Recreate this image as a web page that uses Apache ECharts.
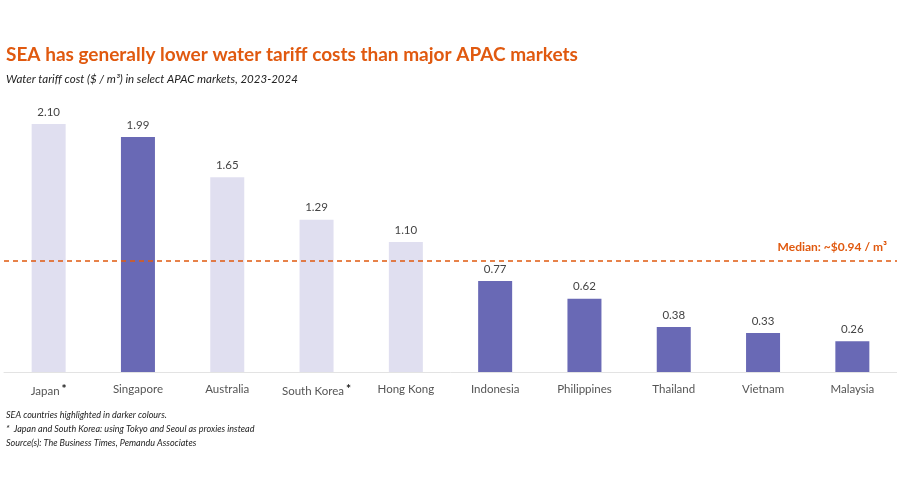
<!DOCTYPE html>
<html>
<head>
<meta charset="utf-8">
<script src="https://cdn.jsdelivr.net/npm/echarts@6/dist/echarts.min.js"></script>
<style>
html, body { margin: 0; padding: 0; background: #fff; }
#chart { width: 897px; height: 479px; }
</style>
</head>
<body>
<div id="chart"></div>
<script>
// markets, in display order
const categories = ['Japan', 'Singapore', 'Australia', 'South Korea', 'Hong Kong', 'Indonesia', 'Philippines', 'Thailand', 'Vietnam', 'Malaysia']
const tariffs = [2.10, 1.99, 1.65, 1.29, 1.10, 0.77, 0.62, 0.38, 0.33, 0.26]
// SEA markets are drawn darker
const isSEA = [false, true, false, false, false, true, true, true, true, true]
const starred = ['Japan', 'South Korea']
const median = 0.94

const orange = '#e0590f'
const lightBar = '#e0dff0'
const darkBar = '#6969b5'
const font = 'Lato'

const myChart = echarts.init(document.getElementById('chart'))

const medianLine = { color: orange, type: [5, 4], width: 1.5, opacity: 1 }

const option = {
    animation: false,
    textStyle: { fontFamily: font },
    title: [
        {
            text: 'SEA has generally lower water tariff costs than major APAC markets',
            left: 1,
            top: 40,
            textStyle: { color: orange, fontSize: 19, fontWeight: 'bold', fontFamily: font }
        },
        {
            text: 'Water tariff cost ($ / m³) in select APAC markets, 2023-2024',
            left: 1,
            top: 68,
            textStyle: { color: '#222', fontSize: 11.5, fontStyle: 'italic', fontWeight: 'normal', fontFamily: font }
        },
        {
            text: 'SEA countries highlighted in darker colours.\n*  Japan and South Korea: using Tokyo and Seoul as proxies instead\nSource(s): The Business Times, Pemandu Associates',
            left: 1,
            top: 403,
            textStyle: { color: '#222', fontSize: 9, fontStyle: 'italic', fontWeight: 'normal', lineHeight: 14, fontFamily: font }
        }
    ],
    grid: {
        left: 4,
        right: -4,
        top: 124,
        bottom: 107,
        containLabel: false
    },
    xAxis: {
        type: 'category',
        data: categories,
        axisTick: { show: false },
        axisLine: { lineStyle: { color: '#e3e3e3', width: 1 } },
        axisLabel: {
            interval: 0,
            margin: 11,
            color: '#555',
            fontSize: 11.5,
            formatter: function (v) {
                return starred.indexOf(v) >= 0 ? v + '{s|*}' : v
            },
            rich: {
                s: { fontSize: 12, color: '#111', fontWeight: 'bold', verticalAlign: 'top', padding: [0, 0, 5, 2] }
            }
        }
    },
    yAxis: {
        type: 'value',
        min: 0,
        max: 2.1,
        show: false
    },
    series: [{
        type: 'bar',
        barWidth: 34,
        data: tariffs.map((v, i) => ({
            value: v,
            itemStyle: { color: isSEA[i] ? darkBar : lightBar }
        })),
        label: {
            show: true,
            position: 'top',
            distance: 6,
            color: '#444',
            fontSize: 11.5,
            formatter: p => p.value.toFixed(2)
        },
        markLine: {
            silent: true,
            symbol: 'none',
            data: [{ yAxis: median, lineStyle: medianLine, itemStyle: { color: orange } }],
            lineStyle: medianLine,
            itemStyle: { color: orange },
            emphasis: { disabled: true },
            label: {
                position: 'insideEndTop',
                formatter: 'Median: ~$0.94 / m³',
                color: orange,
                fontSize: 12,
                fontWeight: 'bold',
                distance: [10, 8]
            }
        }
    }]
}

myChart.setOption(option, true)
</script>
</body>
</html>
